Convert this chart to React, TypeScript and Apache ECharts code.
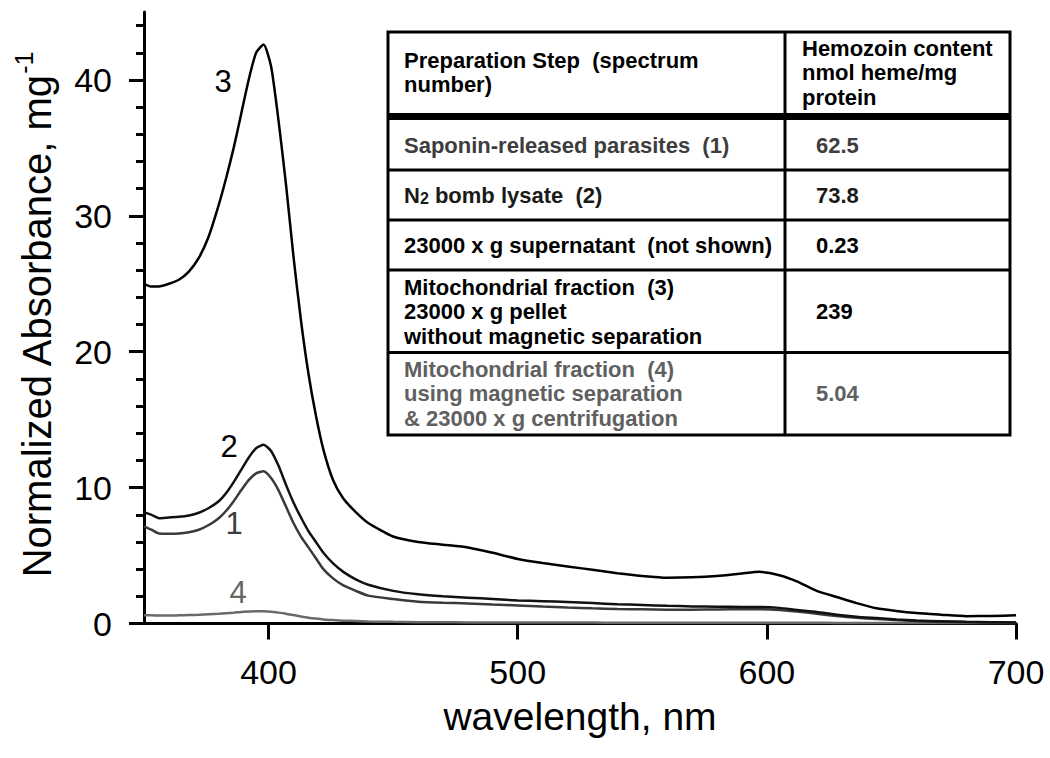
import React, { useEffect, useRef } from "react";
import * as echarts from "echarts";

// ---------- data ----------
const wavelengths = [350, 353, 356, 360, 364, 368, 372, 376, 380, 383, 386, 389, 392, 395, 398, 401, 404, 407, 410, 413, 416, 419, 422, 426, 430, 435, 440, 450, 460, 470, 480, 490, 500, 510, 520, 530, 540, 550, 560, 570, 580, 590, 597, 605, 612, 620, 628, 636, 644, 652, 660, 670, 680, 690, 700];

const spectrum3 = [25.0, 24.8, 24.8, 25.0, 25.3, 25.9, 26.9, 28.5, 30.8, 32.8, 35.0, 37.5, 40.0, 42.0, 42.6, 41.0, 37.0, 32.3, 27.0, 22.3, 18.4, 15.3, 12.8, 10.5, 9.2, 8.2, 7.4, 6.4, 6.0, 5.8, 5.6, 5.2, 4.75, 4.45, 4.2, 3.95, 3.7, 3.5, 3.37, 3.4, 3.5, 3.68, 3.8, 3.55, 3.1, 2.4, 1.95, 1.5, 1.12, 0.92, 0.77, 0.65, 0.54, 0.55, 0.6];

const spectrum2 = [8.2, 8.0, 7.75, 7.8, 7.85, 7.95, 8.15, 8.5, 9.0, 9.6, 10.4, 11.3, 12.2, 12.9, 13.15, 12.7, 11.6, 10.2, 8.9, 7.8, 6.8, 6.0, 5.2, 4.4, 3.8, 3.25, 2.85, 2.4, 2.15, 2.0, 1.9, 1.8, 1.7, 1.64, 1.58, 1.5, 1.42, 1.36, 1.3, 1.26, 1.23, 1.22, 1.22, 1.15, 1.0, 0.85, 0.65, 0.5, 0.4, 0.3, 0.22, 0.17, 0.13, 0.1, 0.08];

const spectrum1 = [7.15, 6.9, 6.62, 6.6, 6.62, 6.72, 6.9, 7.25, 7.75, 8.3, 9.0, 9.8, 10.55, 11.05, 11.2, 10.7, 9.8, 8.6, 7.4, 6.4, 5.6, 4.8, 4.0, 3.3, 2.8, 2.4, 2.05, 1.8, 1.6, 1.52, 1.48, 1.4, 1.33, 1.25, 1.18, 1.12, 1.07, 1.04, 1.02, 1.02, 1.03, 1.05, 1.05, 1.0, 0.88, 0.72, 0.55, 0.42, 0.33, 0.25, 0.18, 0.13, 0.1, 0.08, 0.06];

const spectrum4 = [0.6, 0.6, 0.58, 0.58, 0.6, 0.62, 0.64, 0.68, 0.72, 0.76, 0.8, 0.85, 0.88, 0.9, 0.9, 0.87, 0.8, 0.72, 0.62, 0.52, 0.43, 0.36, 0.3, 0.25, 0.21, 0.18, 0.15, 0.12, 0.1, 0.09, 0.08, 0.075, 0.07, 0.07, 0.065, 0.065, 0.06, 0.06, 0.06, 0.06, 0.06, 0.06, 0.06, 0.055, 0.05, 0.05, 0.045, 0.04, 0.04, 0.04, 0.035, 0.035, 0.03, 0.03, 0.03];

const xTickValues = [400, 500, 600, 700];
const yTickValues = [0, 10, 20, 30, 40];
const yMinorTickValues = [2, 4, 6, 8, 12, 14, 16, 18, 22, 24, 26, 28, 32, 34, 36, 38, 42, 44];

const curveLabels = ["3", "2", "1", "4"];

const tableHeaderStep = "Preparation Step  (spectrum\nnumber)";
const tableHeaderContent = "Hemozoin content\nnmol heme/mg\nprotein";
const tableSteps = [
  "Saponin-released parasites  (1)",
  "{n|N}{sub|2}{n| bomb lysate  (2)}",
  "23000 x g supernatant  (not shown)",
  "Mitochondrial fraction  (3)\n23000 x g pellet\nwithout magnetic separation",
  "Mitochondrial fraction  (4)\nusing magnetic separation\n& 23000 x g centrifugation",
];
const tableValues = ["62.5", "73.8", "0.23", "239", "5.04"];

// ---------- layout / style ----------
const FONT = "'Liberation Sans', Arial, Helvetica, sans-serif";
const rowColors = ["#3d3d3d", "#1a1a1a", "#000000", "#000000", "#606060"];
const tbl = { left: 388, right: 1010, top: 32, bottom: 435, col: 785, header: 116.5 };
const rowLines = [170, 220, 270, 352.5];
const rowCenters = [145, 195, 245, 311.5, 393.5];
const labelPos = [
  { x: 223, y: 81, color: "#000" },
  { x: 229, y: 446, color: "#000" },
  { x: 234, y: 523, color: "#3d3d3d" },
  { x: 238, y: 592, color: "#666" },
];

function pairs(ys: number[]) {
  return wavelengths.map((w, i) => [w, ys[i]]);
}

export default function App() {
  const ref = useRef<HTMLDivElement>(null);
  useEffect(() => {
    if (!ref.current) return;
    const chart = echarts.init(ref.current, null, { renderer: "svg" });

    const graphics: any[] = [];
    graphics.push({
      type: "rect",
      shape: { x: tbl.left, y: tbl.top, width: tbl.right - tbl.left, height: tbl.bottom - tbl.top },
      style: { fill: "#fff", stroke: "#000", lineWidth: 3 },
    });
    graphics.push({
      type: "line",
      shape: { x1: tbl.col, y1: tbl.top, x2: tbl.col, y2: tbl.bottom },
      style: { stroke: "#000", lineWidth: 3 },
    });
    graphics.push({
      type: "line",
      shape: { x1: tbl.left, y1: tbl.header, x2: tbl.right, y2: tbl.header },
      style: { stroke: "#000", lineWidth: 7 },
    });
    rowLines.forEach((y) =>
      graphics.push({
        type: "line",
        shape: { x1: tbl.left, y1: y, x2: tbl.right, y2: y },
        style: { stroke: "#000", lineWidth: 3 },
      })
    );
    const tfont = `bold 22px ${FONT}`;
    graphics.push({
      type: "text",
      x: 404,
      y: 72.5,
      style: { text: tableHeaderStep, font: tfont, fill: "#000", verticalAlign: "middle", lineHeight: 24.5 },
    });
    graphics.push({
      type: "text",
      x: 802,
      y: 72.5,
      style: { text: tableHeaderContent, font: tfont, fill: "#000", verticalAlign: "middle", lineHeight: 24.5 },
    });
    tableSteps.forEach((t, i) => {
      graphics.push({
        type: "text",
        x: 404,
        y: rowCenters[i],
        style: {
          text: t,
          font: tfont,
          fill: rowColors[i],
          verticalAlign: "middle",
          lineHeight: 24.5,
          rich: {
            n: { fontSize: 22, fontWeight: "bold", fontFamily: FONT, fill: rowColors[i], lineHeight: 22 },
            sub: { fontSize: 16, fontWeight: "bold", fontFamily: FONT, fill: rowColors[i], lineHeight: 8, verticalAlign: "bottom" },
          },
        },
      });
      graphics.push({
        type: "text",
        x: 816,
        y: rowCenters[i],
        style: { text: tableValues[i], font: tfont, fill: rowColors[i], verticalAlign: "middle" },
      });
    });
    curveLabels.forEach((t, i) =>
      graphics.push({
        type: "text",
        x: labelPos[i].x,
        y: labelPos[i].y,
        style: { text: t, font: `31px ${FONT}`, fill: labelPos[i].color, align: "center", verticalAlign: "middle" },
      })
    );
    graphics.push({
      type: "text",
      x: 580,
      y: 716,
      style: { text: "wavelength, nm", font: `39px ${FONT}`, fill: "#000", align: "center", verticalAlign: "middle" },
    });
    graphics.push({
      type: "text",
      x: 37,
      y: 315,
      rotation: Math.PI / 2,
      style: {
        text: "{t|Normalized Absorbance, mg}{s|-1}",
        align: "center",
        verticalAlign: "middle",
        rich: {
          t: { fontSize: 40, fontFamily: FONT, fill: "#000", lineHeight: 52 },
          s: { fontSize: 25, fontFamily: FONT, fill: "#000", lineHeight: 10, verticalAlign: "top" },
        },
      },
    });

    const lineSeries = (name: string, ys: number[], color: string, width: number) => ({
      type: "line",
      name,
      data: pairs(ys),
      showSymbol: false,
      smooth: 0.2,
      lineStyle: { color, width },
      xAxisIndex: 0,
      yAxisIndex: 0,
      z: 3,
    });

    chart.setOption({
      animation: false,
      backgroundColor: "#fff",
      grid: { left: 144, right: 34, top: 12, bottom: 134.5, containLabel: false },
      xAxis: {
        type: "value",
        min: 350,
        max: 700,
        axisLine: { show: true, lineStyle: { color: "#000", width: 3 } },
        axisTick: { show: true, length: 16, customValues: xTickValues, lineStyle: { color: "#000", width: 3 } },
        axisLabel: { show: true, customValues: xTickValues, margin: 31, fontSize: 34, fontFamily: FONT, color: "#000" },
        splitLine: { show: false },
      },
      yAxis: [
        {
          type: "value",
          min: 0,
          max: 45,
          axisLine: { show: true, lineStyle: { color: "#000", width: 3 } },
          axisTick: { show: true, length: 15, customValues: yTickValues, lineStyle: { color: "#000", width: 3 } },
          axisLabel: { show: true, customValues: yTickValues, margin: 32, fontSize: 34, fontFamily: FONT, color: "#000" },
          splitLine: { show: false },
        },
        {
          type: "value",
          min: 0,
          max: 45,
          position: "left",
          axisLine: { show: false },
          axisTick: { show: true, length: 8, customValues: yMinorTickValues, lineStyle: { color: "#000", width: 3 } },
          axisLabel: { show: false },
          splitLine: { show: false },
        },
      ],
      series: [
        lineSeries("Spectrum 4", spectrum4, "#6a6a6a", 2.5),
        lineSeries("Spectrum 1", spectrum1, "#3a3a3a", 2.5),
        lineSeries("Spectrum 2", spectrum2, "#111111", 2.5),
        lineSeries("Spectrum 3", spectrum3, "#000000", 2.5),
      ],
      graphic: graphics,
    });
    return () => chart.dispose();
  }, []);

  return (
    <div
      ref={ref}
      style={{ position: "fixed", left: 0, top: 0, width: 1050, height: 758, background: "#fff" }}
    />
  );
}
